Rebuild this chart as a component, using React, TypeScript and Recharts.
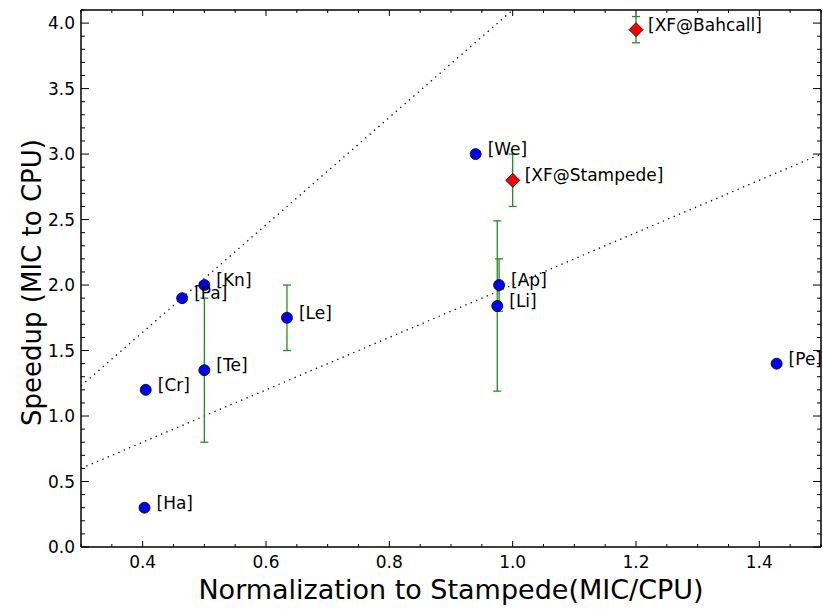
import { ErrorBar, Label, ReferenceLine, Scatter, ScatterChart, XAxis, YAxis } from "recharts";

// plain codes (blue circles)
const codeNames = ["Ha", "Cr", "Pa", "Kn", "Te", "Le", "We", "Ap", "Li", "Pe"];
const codeNorm = [0.403, 0.405, 0.464, 0.5, 0.5, 0.634, 0.94, 0.978, 0.975, 1.428];
const codeSpeedup = [0.3, 1.2, 1.9, 2.0, 1.35, 1.75, 3.0, 2.0, 1.84, 1.4];
const codeErr = [0, 0, 0, 0, 0.55, 0.25, 0, 0.2, 0.65, 0];

// XFlat runs (red diamonds)
const xfNames = ["XF@Stampede", "XF@Bahcall"];
const xfNorm = [1.0, 1.2];
const xfSpeedup = [2.8, 3.95];
const xfErr = [0.2, 0.1];

// dotted guide lines
const guideSteep = [
  { x: 0.3, y: 1.23 },
  { x: 1.0, y: 4.1 },
];
const guideShallow = [
  { x: 0.3, y: 0.6 },
  { x: 1.5, y: 3.0 },
];

const xMajor = [0.4, 0.6, 0.8, 1.0, 1.2, 1.4];
const yMajor = [0.0, 0.5, 1.0, 1.5, 2.0, 2.5, 3.0, 3.5, 4.0];
// minor ticks: every 0.05 on x, every 0.1 on y
const xTicks = Array.from({ length: 25 }, (_, i) => Math.round((0.3 + i * 0.05) * 100) / 100);
const yTicks = Array.from({ length: 42 }, (_, i) => i / 10);

const FONT = "DejaVu Sans";

const codes = codeNames.map((name, i) => ({
  name,
  x: codeNorm[i],
  y: codeSpeedup[i],
  err: codeErr[i] || null,
}));
const xf = xfNames.map((name, i) => ({ name, x: xfNorm[i], y: xfSpeedup[i], err: xfErr[i] }));
const labels = [...codes, ...xf];

const isMajor = (list: number[], v: number) => list.some((m) => Math.abs(m - v) < 1e-6);

function makeXTick(side: "bottom" | "top") {
  return (props: any) => {
    const { x, y, payload } = props;
    const major = isMajor(xMajor, payload.value);
    const len = major ? 6 : 3;
    const dir = side === "bottom" ? -1 : 1;
    return (
      <g>
        <line x1={x} x2={x} y1={y} y2={y + dir * len} stroke="#000" strokeWidth={1} />
        {side === "bottom" && major && (
          <text x={x} y={y + 21} textAnchor="middle" fontSize={17} fontFamily={FONT} fill="#000">
            {payload.value.toFixed(1)}
          </text>
        )}
      </g>
    );
  };
}

function makeYTick(side: "left" | "right") {
  return (props: any) => {
    const { x, y, payload } = props;
    const major = isMajor(yMajor, payload.value);
    const len = major ? 8 : 4;
    const dir = side === "left" ? 1 : -1;
    return (
      <g>
        <line x1={x} x2={x + dir * len} y1={y} y2={y} stroke="#000" strokeWidth={1} />
        {side === "left" && major && (
          <text x={x - 6} y={y + 6} textAnchor="end" fontSize={17} fontFamily={FONT} fill="#000">
            {payload.value.toFixed(1)}
          </text>
        )}
      </g>
    );
  };
}

const BlueDot = (p: any) => (
  <circle cx={p.cx} cy={p.cy} r={5.5} fill="#0000ff" stroke="#000" strokeWidth={0.8} />
);

const RedDiamond = (p: any) => (
  <polygon
    points={`${p.cx},${p.cy - 7} ${p.cx + 7},${p.cy} ${p.cx},${p.cy + 7} ${p.cx - 7},${p.cy}`}
    fill="#ff0000"
    stroke="#000"
    strokeWidth={0.8}
  />
);

const NameTag = (p: any) => (
  <text x={p.cx + 12} y={p.cy + 1} fontSize={17} fontFamily={FONT} fill="#000">
    [{p.payload.name}]
  </text>
);

const axisLine = { stroke: "#000", strokeWidth: 1.5 };

export default function App() {
  return (
    <div style={{ position: "absolute", left: 0, top: 0, background: "#fff" }}>
      <ScatterChart width={823} height={609} margin={{ top: 0, right: 0, bottom: 0, left: 0 }}>
        <XAxis
          type="number"
          dataKey="x"
          domain={[0.3, 1.5]}
          allowDataOverflow
          ticks={xTicks}
          interval={0}
          tickSize={0}
          tickMargin={0}
          tickLine={false}
          axisLine={axisLine}
          tick={makeXTick("bottom")}
          height={62}
        >
          <Label
            content={(p: any) => (
              <text
                x={p.viewBox.x + p.viewBox.width / 2}
                y={p.viewBox.y + 52}
                textAnchor="middle"
                fontSize={27}
                fontFamily={FONT}
                fill="#000"
              >
                Normalization to Stampede(MIC/CPU)
              </text>
            )}
          />
        </XAxis>
        <XAxis
          xAxisId="top"
          orientation="top"
          type="number"
          dataKey="x"
          domain={[0.3, 1.5]}
          allowDataOverflow
          ticks={xTicks}
          interval={0}
          tickSize={0}
          tickMargin={0}
          tickLine={false}
          axisLine={axisLine}
          tick={makeXTick("top")}
          height={10}
        />
        <YAxis
          type="number"
          dataKey="y"
          domain={[0, 4.1]}
          allowDataOverflow
          ticks={yTicks}
          interval={0}
          tickSize={0}
          tickMargin={0}
          tickLine={false}
          axisLine={axisLine}
          tick={makeYTick("left")}
          width={81}
        >
          <Label
            content={(p: any) => {
              const cx = 32;
              const cy = p.viewBox.y + p.viewBox.height / 2 + 4;
              return (
                <text
                  x={cx}
                  y={cy}
                  transform={`rotate(-90 ${cx} ${cy})`}
                  textAnchor="middle"
                  dominantBaseline="central"
                  fontSize={26}
                  fontFamily={FONT}
                  fill="#000"
                >
                  Speedup (MIC to CPU)
                </text>
              );
            }}
          />
        </YAxis>
        <YAxis
          yAxisId="right"
          orientation="right"
          type="number"
          dataKey="y"
          domain={[0, 4.1]}
          allowDataOverflow
          ticks={yTicks}
          interval={0}
          tickSize={0}
          tickMargin={0}
          tickLine={false}
          axisLine={axisLine}
          tick={makeYTick("right")}
          width={2}
        />
        <ReferenceLine
          segment={guideSteep}
          stroke="#000"
          strokeWidth={1.3}
          strokeDasharray="1.3 4.5"
          ifOverflow="hidden"
        />
        <ReferenceLine
          segment={guideShallow}
          stroke="#000"
          strokeWidth={1.3}
          strokeDasharray="1.3 4.5"
          ifOverflow="hidden"
        />
        <Scatter data={codes} shape={BlueDot} isAnimationActive={false}>
          <ErrorBar dataKey="err" direction="y" width={4} stroke="#1f8f1f" strokeWidth={1.3} />
        </Scatter>
        <Scatter data={xf} shape={RedDiamond} isAnimationActive={false}>
          <ErrorBar dataKey="err" direction="y" width={4} stroke="#1f8f1f" strokeWidth={1.3} />
        </Scatter>
        <Scatter data={labels} shape={NameTag} isAnimationActive={false} />
      </ScatterChart>
    </div>
  );
}
